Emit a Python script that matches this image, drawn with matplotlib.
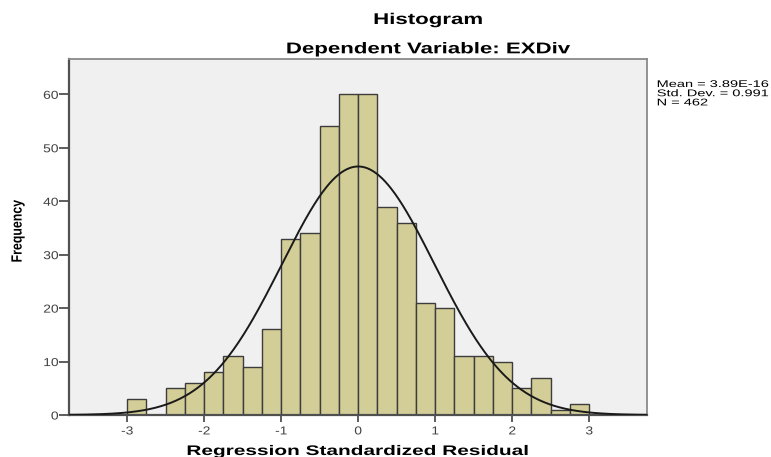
import numpy as np
import matplotlib
matplotlib.use("Agg")
import matplotlib.pyplot as plt
from matplotlib.patheffects import AbstractPathEffect
from matplotlib.transforms import Affine2D

# ---- data ----
bin_left = [-3.0, -2.75, -2.5, -2.25, -2.0, -1.75, -1.5, -1.25, -1.0, -0.75, -0.5, -0.25,
            0.0, 0.25, 0.5, 0.75, 1.0, 1.25, 1.5, 1.75, 2.0, 2.25, 2.5, 2.75]
counts = [3, 0, 5, 6, 8, 11, 9, 16, 33, 34, 54, 60,
          60, 39, 36, 21, 20, 11, 11, 10, 5, 7, 1, 2]
bin_width = 0.25
mean_val = 3.89e-16
std_val = 0.991
n_val = 462
x_ticks = [-3, -2, -1, 0, 1, 2, 3]
y_ticks = [0, 10, 20, 30, 40, 50, 60]


class StretchX(AbstractPathEffect):
    """Stretch drawn text horizontally about an anchor (text stays a Text artist)."""
    def __init__(self, sx, anchor="center"):
        super().__init__()
        self.sx = sx
        self.anchor = anchor

    def draw_path(self, renderer, gc, tpath, affine, rgbFace=None):
        ext = tpath.get_extents(affine)
        if self.anchor == "left":
            cx = ext.x0
        elif self.anchor == "right":
            cx = ext.x1
        else:
            cx = 0.5 * (ext.x0 + ext.x1)
        aff = affine + Affine2D().translate(-cx, 0).scale(self.sx, 1).translate(cx, 0)
        renderer.draw_path(gc, tpath, aff, rgbFace)


plt.rcParams["font.family"] = ["Liberation Sans", "DejaVu Sans"]

W, H = 771, 457
fig = plt.figure(figsize=(W / 100, H / 100), dpi=100)
fig.patch.set_facecolor("white")

L, R, T, B = 69, 647, 59.3, 415
ax = fig.add_axes([L / W, 1 - B / H, (R - L) / W, (B - T) / H])
ax.set_facecolor("#F0F0F0")

ax.bar(bin_left, counts, width=bin_width, align="edge", color="#D3CE98",
       edgecolor="#3c3c3c", linewidth=1.0, zorder=2)

xs = np.linspace(-3.8, 3.8, 600)
pdf = n_val * bin_width / (std_val * np.sqrt(2 * np.pi)) * np.exp(-0.5 * ((xs - mean_val) / std_val) ** 2)
ax.plot(xs, pdf, color="#1a1a1a", linewidth=1.4, zorder=3)

ax.set_xlim(-3.755, 3.75)
ax.set_ylim(0, 66.55)
ax.set_xticks(x_ticks)
ax.set_yticks(y_ticks)
ax.set_xticklabels([str(v) for v in x_ticks])
ax.set_yticklabels([str(v) for v in y_ticks])

for s in ["left", "bottom"]:
    ax.spines[s].set_color("#505050")
    ax.spines[s].set_linewidth(1.6)
for s in ["top", "right"]:
    ax.spines[s].set_color("#8a8a8a")
    ax.spines[s].set_linewidth(1.3)

ax.tick_params(axis="y", direction="out", length=7, width=1.3, color="#505050",
               labelsize=8.3, labelcolor="#404040", pad=0.5)
ax.tick_params(axis="x", direction="out", length=5, width=1.3, color="#505050",
               labelsize=8.3, labelcolor="#404040", pad=2.5)
for lbl in ax.get_yticklabels():
    lbl.set_path_effects([StretchX(1.2, "right")])
for lbl in ax.get_xticklabels():
    lbl.set_path_effects([StretchX(1.2, "center")])

# titles
fig.text(428 / W, 1 - 24 / H, "Histogram", ha="center", va="baseline",
         fontsize=11.2, fontweight="bold", color="black",
         path_effects=[StretchX(1.43, "center")])
fig.text(428 / W, 1 - 53.3 / H, "Dependent Variable: EXDiv", ha="center", va="baseline",
         fontsize=11.2, fontweight="bold", color="black",
         path_effects=[StretchX(1.43, "center")])

# axis labels
fig.text(358 / W, 1 - 455 / H, "Regression Standardized Residual", ha="center", va="baseline",
         fontsize=10, fontweight="bold", color="black",
         path_effects=[StretchX(1.5, "center")])
fig.text(18 / W, 1 - 231 / H, "Frequency", ha="center", va="center", rotation=90,
         fontsize=8.9, fontweight="bold", color="black",
         path_effects=[StretchX(1.2, "center")])

# stats box text
stats_text = f"Mean = 3.89E-16\nStd. Dev. = {std_val}\nN = {n_val}"
fig.text(657 / W, 1 - 79 / H, stats_text, ha="left", va="top",
         fontsize=7, linespacing=0.9, color="black",
         path_effects=[StretchX(1.5, "left")])

fig.savefig("out.png", dpi=100, facecolor="white")
